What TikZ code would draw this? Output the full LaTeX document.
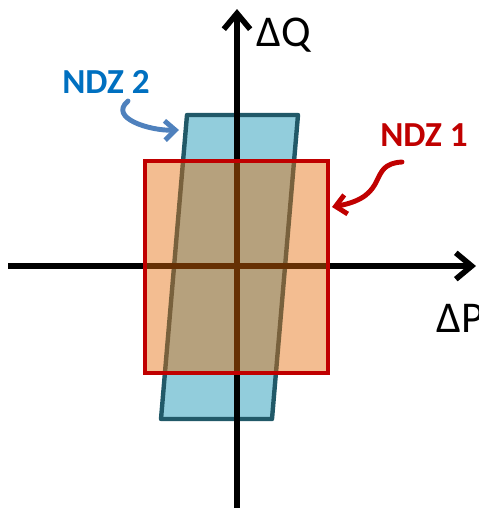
\documentclass[tikz,border=0pt]{standalone}
\usepackage{fontspec}
\setmainfont{Carlito}
\usepackage{xcolor}
\definecolor{ndzred}{HTML}{C00000}
\definecolor{ndzorange}{HTML}{E46C0A}
\definecolor{ndzblue}{HTML}{92CDDC}
\definecolor{ndzteal}{HTML}{215968}
\definecolor{ndzlabel}{HTML}{0070C0}
\definecolor{ndzpointer}{HTML}{4F81BD}
\usepackage{tikz}
\usetikzlibrary{arrows.meta}

\begin{document}
\begin{tikzpicture}[x=0.02cm,y=-0.02cm,
  axisline/.style={line width=3.2pt,-{Straight Barb[length=9pt,width=15pt,line width=3.2pt]}},
  pointer/.style={line width=2.8pt,line cap=round,-{Straight Barb[length=6pt,width=11pt,line width=2.8pt]}},
  axislabel/.style={anchor=west,inner sep=0pt,font=\fontsize{25}{30}\selectfont},
  zonelabel/.style={inner sep=0pt,font=\fontsize{20}{24}\selectfont\bfseries}]
\useasboundingbox (0,0) rectangle (478,508);
% second zone (drawn first, under the rest)
\draw[fill=ndzblue,draw=ndzteal,line width=2.5pt,line join=round]
  (187,115) -- (298,115) -- (272,419) -- (161,419) -- cycle;
% axes
\coordinate (pwest) at (8,266);
\coordinate (peast) at (476,266);
\coordinate (qsouth) at (237,510);
\coordinate (qnorth) at (237,9);
\draw[axisline] (pwest) -- (peast);
\draw[axisline] (qsouth) -- (qnorth);
\node[axislabel] (dq) at (256,35) {ΔQ};
\node[axislabel] (dp) at (436,318) {ΔP};
% first zone
\fill[ndzorange,fill opacity=0.45] (145,161) rectangle (328,373);
\draw[ndzred,line width=2.8pt] (145,161) rectangle (328,373);
% labels
\node[zonelabel,text=ndzlabel] (ndztwo) at (106,82) {NDZ 2};
\node[zonelabel,text=ndzred] (ndzone) at (424,135) {NDZ 1};
\coordinate (twostart) at (128,101);
\coordinate (twotip) at (179,130);
\coordinate (onestart) at (402,162);
\coordinate (onetip) at (332,207);
\draw[pointer,ndzpointer] (twostart) .. controls (108,118) and (150,131) .. (twotip);
\draw[pointer,ndzred] (onestart) .. controls (366,164) and (392,196) .. (onetip);
\end{tikzpicture}
\end{document}
